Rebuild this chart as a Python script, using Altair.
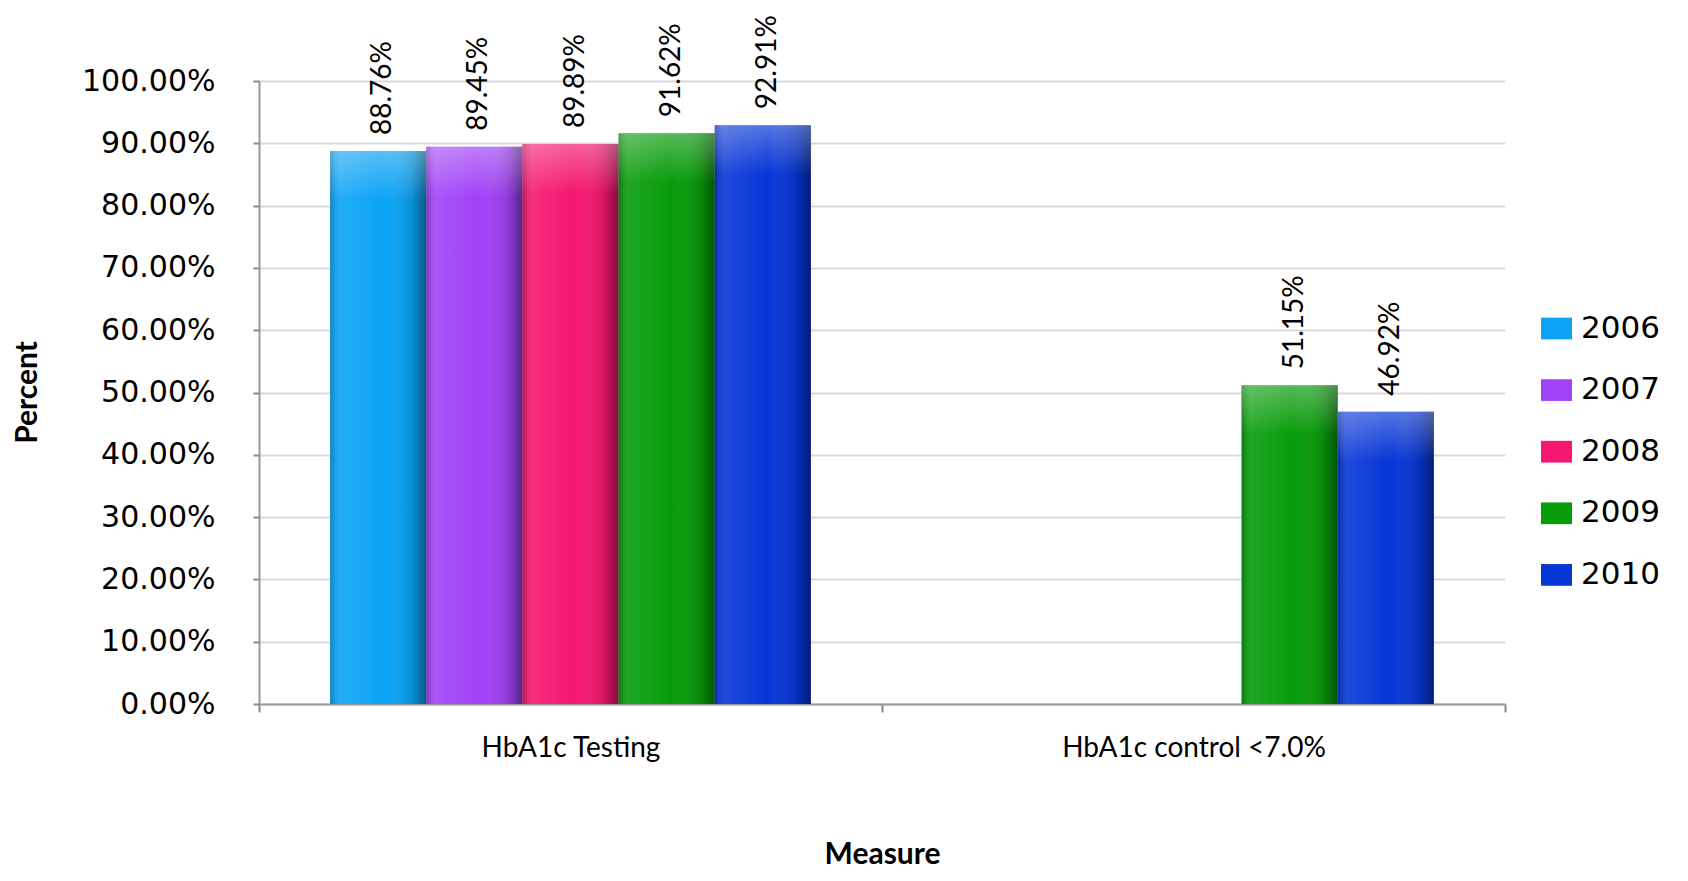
import altair as alt
import pandas as pd

# ---- data ----
categories = ["HbA1c Testing", "HbA1c control <7.0%"]
year_domain = ["2006", "2007", "2008", "2009", "2010"]
measures = ["HbA1c Testing"] * 5 + ["HbA1c control <7.0%"] * 2
years = ["2006", "2007", "2008", "2009", "2010", "2009", "2010"]
values = [0.8876, 0.8945, 0.8989, 0.9162, 0.9291, 0.5115, 0.4692]
colors = ["#0aa3f5", "#a142f7", "#f5166f", "#079c0a", "#0636d6"]
y_ticks = [0.0, 0.1, 0.2, 0.3, 0.4, 0.5, 0.6, 0.7, 0.8, 0.9, 1.0]

df = pd.DataFrame({"Measure": measures, "Year": years, "value": values})

x_enc = alt.X(
    "Measure:N",
    sort=categories,
    scale=alt.Scale(domain=categories, paddingInner=0, paddingOuter=0),
    axis=alt.Axis(
        title="Measure",
        labelAngle=0,
        labelFont="Lato",
        labelFontSize=28,
        labelColor="#000000",
        labelPadding=22,
        labelLimit=0,
        tickBand="extent",
        tickSize=8,
        tickColor="#888888",
        tickWidth=2,
        domainColor="#999999",
        domainWidth=2,
        titleFont="Lato",
        titleFontWeight="bold",
        titleFontSize=30,
        titleColor="#000000",
        titleY=159,
        titleBaseline="alphabetic",
        grid=False,
    ),
)
xoff_enc = alt.XOffset(
    "Year:N",
    scale=alt.Scale(domain=year_domain, paddingInner=0, paddingOuter=0.74),
)
y_enc = alt.Y(
    "value:Q",
    scale=alt.Scale(domain=[0, 1], nice=False),
    axis=alt.Axis(
        title="Percent",
        values=y_ticks,
        format=".2%",
        labelFont="DejaVu Sans",
        labelFontSize=30,
        labelColor="#000000",
        labelPadding=38,
        tickSize=6,
        tickColor="#888888",
        tickWidth=2,
        domainColor="#999999",
        domainWidth=2,
        gridColor="#d9d9d9",
        gridWidth=2,
        titleFont="Lato",
        titleFontWeight="bold",
        titleFontSize=30,
        titleColor="#000000",
        titleAngle=270,
        titleX=-232,
        titleY=311,
        titleBaseline="middle",
        titleAlign="center",
    ),
)

base = alt.Chart(df)

bars = base.mark_bar().encode(
    x=x_enc,
    xOffset=xoff_enc,
    y=y_enc,
    color=alt.Color(
        "Year:N",
        scale=alt.Scale(domain=year_domain, range=colors),
        legend=alt.Legend(
            title=None,
            orient="none",
            legendX=1282,
            legendY=232,
            symbolType="M-1,-0.7H1V0.7H-1Z",
            symbolSize=961,
            symbolStrokeWidth=0,
            labelFont="DejaVu Sans",
            labelFontSize=31,
            labelColor="#000000",
            labelOffset=9,
            rowPadding=29.6,
        ),
    ),
)

shade = base.mark_bar(
    fill=alt.Gradient(
        gradient="linear",
        x1=0, x2=1, y1=0, y2=0,
        stops=[
            alt.GradientStop(color="rgba(0,0,0,0.22)", offset=0),
            alt.GradientStop(color="rgba(255,255,255,0.10)", offset=0.1),
            alt.GradientStop(color="rgba(255,255,255,0.0)", offset=0.55),
            alt.GradientStop(color="rgba(0,0,0,0.12)", offset=0.85),
            alt.GradientStop(color="rgba(0,0,0,0.45)", offset=1),
        ],
    )
).encode(x=x_enc, xOffset=xoff_enc, y=y_enc)

top_glow = base.transform_calculate(low="datum.value - 0.08").mark_bar(
    fill=alt.Gradient(
        gradient="linear",
        x1=0, x2=0, y1=0, y2=1,
        stops=[
            alt.GradientStop(color="rgba(255,255,255,0.30)", offset=0),
            alt.GradientStop(color="rgba(255,255,255,0.0)", offset=1),
        ],
    )
).encode(x=x_enc, xOffset=xoff_enc, y=y_enc, y2="low:Q")

labels = base.mark_text(
    angle=270,
    align="left",
    baseline="middle",
    dx=16,
    dy=5,
    font="Lato",
    fontSize=28,
    color="#000000",
).encode(
    x=x_enc,
    xOffset=xoff_enc,
    y=y_enc,
    text=alt.Text("value:Q", format=".2%"),
)

chart = (
    alt.layer(bars, shade, top_glow, labels)
    .properties(
        width=1246,
        height=623,
        autosize=alt.AutoSizeParams(type="none"),
        padding={"left": 251, "top": 73, "right": 175, "bottom": 169},
        background="#ffffff",
    )
    .configure_view(stroke=None)
)

chart.save("out.html", embed_options={"renderer": "svg", "actions": False})
